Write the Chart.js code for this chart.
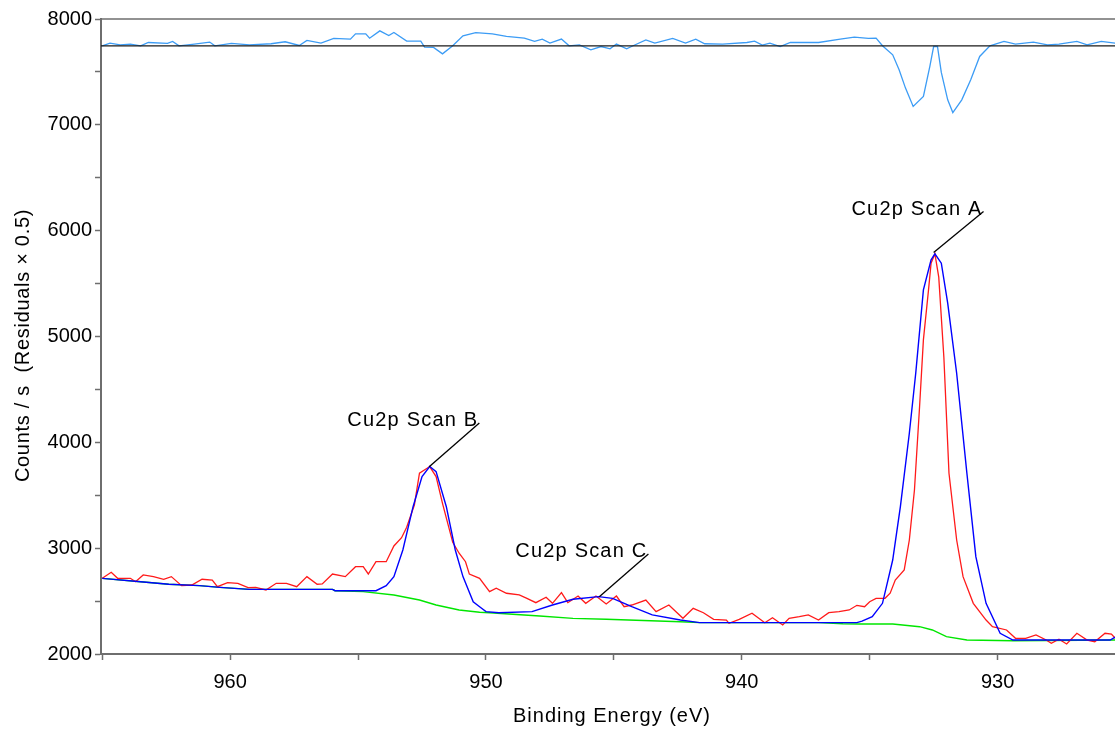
<!DOCTYPE html>
<html>
<head>
<meta charset="utf-8">
<title>Cu2p</title>
<script src="https://cdn.jsdelivr.net/npm/chart.js@4.4.0/dist/chart.umd.min.js"></script>
<style>
  body { margin: 0; background: #fff; }
  #wrap { width: 1115px; height: 729px; }
</style>
</head>
<body>
<div id="wrap"><canvas id="xps" width="1115" height="729"></canvas></div>
<script>
// raw counts (red)
const rawBE = [965.0, 964.65, 964.4, 963.9, 963.7, 963.4, 963.0, 962.6, 962.3, 961.9, 961.5, 961.1, 960.7, 960.5, 960.1,
  959.7, 959.3, 959.0, 958.6, 958.2, 957.8, 957.4, 957.0, 956.6, 956.4, 956.0, 955.5, 955.1, 954.8, 954.6, 954.3, 953.9,
  953.6, 953.3, 953.1, 952.8, 952.6, 952.2, 951.95, 951.7, 951.3, 951.05, 950.8, 950.65, 950.25, 949.86, 949.6, 949.2,
  948.7, 948.4, 948.05, 947.65, 947.4, 947.05, 946.8, 946.4, 946.1, 945.7, 945.3, 944.9, 944.6, 944.3, 943.75, 943.35,
  942.85, 942.3, 941.9, 941.5, 941.1, 940.6, 940.5, 940.1, 939.6, 939.1, 938.8, 938.4, 938.15, 937.75, 937.4, 937.0,
  936.6, 936.2, 935.8, 935.5, 935.2, 935.0, 934.75, 934.4, 934.2, 934.0, 933.65, 933.45, 933.25, 933.05, 932.9, 932.7,
  932.6, 932.45, 932.3, 932.1, 931.9, 931.6, 931.35, 930.95, 930.45, 930.2, 929.65, 929.3, 928.9, 928.5, 928.1, 927.9,
  927.6, 927.3, 926.9, 926.5, 926.2, 925.8, 925.55, 925.4];
const rawCounts = [2715, 2772, 2715, 2715, 2683, 2747, 2731, 2706, 2731, 2646, 2652, 2706, 2699, 2636, 2674,
  2668, 2627, 2630, 2605, 2668, 2668, 2636, 2731, 2659, 2662, 2756, 2731, 2825, 2825, 2756, 2872, 2872,
  3021, 3099, 3198, 3408, 3708, 3771, 3676, 3424, 3055, 2952, 2872, 2755, 2715, 2589, 2621, 2574,
  2558, 2526, 2485, 2536, 2479, 2580, 2485, 2548, 2479, 2548, 2473, 2548, 2447, 2463, 2510, 2400,
  2463, 2337, 2432, 2390, 2328, 2321, 2290, 2328, 2385, 2296, 2343, 2274, 2337, 2353, 2369, 2321,
  2390, 2400, 2416, 2460, 2447, 2494, 2526, 2526, 2574, 2699, 2794, 3077, 3550, 4337, 4968, 5440,
  5693, 5781, 5561, 4804, 3708, 3077, 2731, 2479, 2321, 2258, 2227, 2148, 2148, 2180, 2132, 2101,
  2139, 2095, 2196, 2132, 2116, 2196, 2189, 2148];

// fit envelope (blue)
const envBE = [965.0, 963.5, 962.4, 961.2, 960.4, 959.25, 956.0, 955.9, 954.3, 953.9, 953.6, 953.25, 952.85, 952.5,
  952.2, 951.95, 951.55, 951.2, 950.9, 950.5, 950.25, 950.0, 949.5, 948.2, 947.4, 946.6, 945.6, 945.05, 944.3, 943.5,
  942.4, 941.65, 935.5, 935.3, 934.9, 934.5, 934.1, 933.8, 933.45, 933.2, 932.9, 932.6, 932.45, 932.2, 931.95, 931.6,
  931.2, 930.85, 930.45, 929.9, 929.4, 925.6, 925.4];
const envCounts = [2715, 2683, 2659, 2646, 2630, 2611, 2611, 2598, 2598, 2646, 2731, 2983, 3392, 3676,
  3771, 3723, 3392, 2983, 2731, 2494, 2447, 2400, 2390, 2400, 2463, 2517, 2542, 2526, 2447, 2369,
  2321, 2296, 2296, 2310, 2353, 2479, 2888, 3392, 4086, 4653, 5440, 5724, 5781, 5693, 5315, 4653,
  3708, 2920, 2479, 2196, 2132, 2132, 2160];

// background (green)
const bgBE = [965.0, 963.5, 962.4, 961.2, 960.4, 959.25, 956.0, 955.9, 954.8, 953.6, 952.6, 951.95, 951.05, 950.25,
  949.86, 947.9, 946.6, 945.3, 942.4, 941.65, 937.0, 936.05, 935.4, 934.1, 933.05, 932.55, 932.0, 931.2, 929.4, 925.4];
const bgCounts = [2715, 2683, 2659, 2646, 2630, 2611, 2611, 2598, 2589, 2558, 2510, 2463, 2416, 2394,
  2390, 2359, 2337, 2328, 2305, 2296, 2296, 2286, 2284, 2284, 2258, 2227, 2164, 2132, 2125, 2132];

// residuals (x 0.5, drawn offset near the top)
const resBE = [965.0, 964.7, 964.3, 963.9, 963.5, 963.2, 962.45, 962.25, 962.0, 961.4, 960.8, 960.6, 959.95, 959.25,
  958.4, 957.85, 957.3, 957.0, 956.45, 955.95, 955.3, 955.1, 954.7, 954.55, 954.15, 953.8, 953.6, 953.1, 952.55, 952.4,
  952.05, 951.7, 951.3, 950.9, 950.4, 949.75, 949.2, 948.5, 948.1, 947.8, 947.5, 947.05, 946.75, 946.35, 945.9, 945.5,
  945.15, 944.9, 944.5, 944.25, 943.75, 943.4, 942.7, 942.2, 941.8, 941.45, 940.75, 939.8, 939.5, 939.2, 938.9, 938.5,
  938.1, 937.55, 937.0, 936.15, 935.6, 935.05, 934.75, 934.5, 934.1, 933.85, 933.6, 933.3, 932.9, 932.65, 932.5, 932.35,
  932.2, 931.95, 931.75, 931.4, 931.05, 930.7, 930.3, 929.75, 929.3, 928.6, 928.05, 927.6, 926.9, 926.5, 925.95, 925.4];
const resCounts = [7747, 7772, 7756, 7763, 7747, 7778, 7769, 7788, 7747, 7763, 7782, 7747, 7769, 7756,
  7766, 7785, 7750, 7797, 7772, 7816, 7810, 7860, 7860, 7819, 7888, 7844, 7872, 7791, 7791, 7735,
  7731, 7671, 7747, 7841, 7872, 7860, 7835, 7819, 7788, 7810, 7772, 7810, 7747, 7756, 7709, 7740,
  7718, 7763, 7718, 7747, 7803, 7772, 7816, 7772, 7810, 7766, 7763, 7778, 7791, 7754, 7772, 7740,
  7778, 7778, 7778, 7810, 7829, 7816, 7819, 7747, 7662, 7520, 7347, 7174, 7268, 7551, 7740, 7740,
  7495, 7236, 7116, 7236, 7425, 7646, 7747, 7788, 7763, 7782, 7756, 7763, 7788, 7756, 7788, 7772];

// residual zero line
const zeroBE = [965.05, 925.41];
const zeroCounts = [7747, 7747];

// tick values
const xTicks = [965, 960, 955, 950, 945, 940, 935, 930];
const yTicks = [2000, 2500, 3000, 3500, 4000, 4500, 5000, 5500, 6000, 6500, 7000, 7500, 8000];

// peak labels
const peakLabels = ['Cu2p Scan A', 'Cu2p Scan B', 'Cu2p Scan C'];
const peakBE = [932.5, 952.22, 945.57];
const peakCounts = [5793, 3770, 2542];
const tipBE = [930.55, 950.26, 943.65];
const tipCounts = [6181, 4183, 2945];

const FONT = "'Liberation Sans', Arial, sans-serif";
const AXIS_GREY = '#6e6e6e';

function pts(xs, ys) {
  return xs.map((x, i) => ({ x: x, y: ys[i] }));
}

function line(data, color, width) {
  return { data: data, borderColor: color, borderWidth: width, pointRadius: 0, tension: 0, fill: false };
}

const extras = {
  id: 'extras',
  afterDatasetsDraw(chart) {
    const ctx = chart.ctx;
    const xs = chart.scales.x, ys = chart.scales.y;
    ctx.save();
    ctx.font = '20px ' + FONT;
    ctx.letterSpacing = '1.2px';
    ctx.fillStyle = '#000';
    ctx.textAlign = 'right';
    ctx.textBaseline = 'alphabetic';
    ctx.strokeStyle = '#000';
    ctx.lineWidth = 1.3;
    peakLabels.forEach((txt, i) => {
      const px = xs.getPixelForValue(peakBE[i]), py = ys.getPixelForValue(peakCounts[i]);
      const tx = xs.getPixelForValue(tipBE[i]), ty = ys.getPixelForValue(tipCounts[i]);
      ctx.beginPath();
      ctx.moveTo(px, py);
      ctx.lineTo(tx, ty);
      ctx.stroke();
      ctx.fillText(txt, tx - 1, ty + 3);
    });
    ctx.restore();
  },
  afterDraw(chart) {
    const ctx = chart.ctx;
    const a = chart.chartArea;
    ctx.save();
    // top frame line
    ctx.strokeStyle = AXIS_GREY;
    ctx.lineWidth = 1.5;
    ctx.beginPath();
    ctx.moveTo(a.left, a.top);
    ctx.lineTo(a.right, a.top);
    ctx.stroke();

    ctx.fillStyle = '#000';
    ctx.font = '20px ' + FONT;
    ctx.textAlign = 'center';
    ctx.textBaseline = 'alphabetic';
    ctx.letterSpacing = '1px';
    ctx.fillText('Binding Energy (eV)', (a.left + a.right) / 2 + 4, chart.height - 7);

    ctx.letterSpacing = '0.7px';
    ctx.translate(29, (a.top + a.bottom) / 2 + 9);
    ctx.rotate(-Math.PI / 2);
    ctx.fillText('Counts / s  (Residuals \u00d7 0.5)', 0, 0);
    ctx.restore();
  }
};

new Chart(document.getElementById('xps').getContext('2d'), {
  type: 'line',
  data: {
    datasets: [
      line(pts(envBE, envCounts), '#0000ff', 1.4),
      line(pts(rawBE, rawCounts), '#ff1a1a', 1.3),
      line(pts(bgBE, bgCounts), '#00e600', 1.4),
      line(pts(zeroBE, zeroCounts), '#1a1a1a', 1.3),
      line(pts(resBE, resCounts), '#3c9cf5', 1.3)
    ]
  },
  options: {
    responsive: false,
    animation: false,
    layout: { padding: { top: 19, left: 0, right: 0, bottom: 0 } },
    plugins: {
      legend: { display: false },
      tooltip: { enabled: false }
    },
    scales: {
      x: {
        type: 'linear',
        reverse: true,
        min: 925.41,
        max: 965.05,
        afterBuildTicks: s => { s.ticks = xTicks.map(v => ({ value: v })); },
        afterFit: s => { s.height = 75; },
        ticks: {
          autoSkip: false,
          maxRotation: 0,
          padding: 10,
          color: '#000',
          font: { size: 20, family: FONT },
          callback: v => (v % 10 === 0 ? String(v) : '')
        },
        grid: { drawOnChartArea: false, drawTicks: true, tickLength: 6, tickColor: AXIS_GREY, tickWidth: 1.5 },
        border: { color: AXIS_GREY, width: 2 }
      },
      y: {
        min: 2000,
        max: 8000,
        afterBuildTicks: s => { s.ticks = yTicks.map(v => ({ value: v })); },
        afterFit: s => { s.width = 101; },
        ticks: {
          autoSkip: false,
          padding: 3,
          color: '#000',
          font: { size: 20, family: FONT },
          callback: v => (v % 1000 === 0 ? String(v) : '')
        },
        grid: { drawOnChartArea: false, drawTicks: true, tickLength: 6, tickColor: AXIS_GREY, tickWidth: 1.5 },
        border: { color: AXIS_GREY, width: 2 }
      }
    }
  },
  plugins: [extras]
});
</script>
</body>
</html>
